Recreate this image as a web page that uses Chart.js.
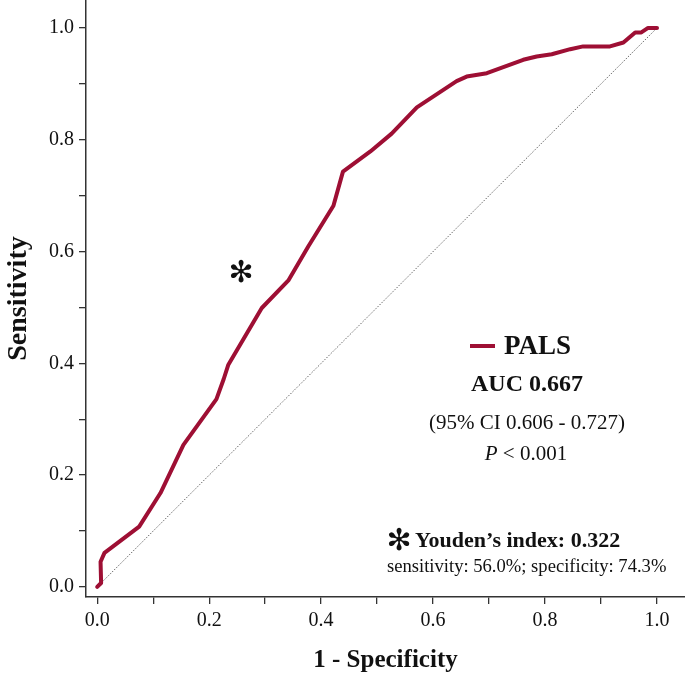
<!DOCTYPE html>
<html>
<head>
<meta charset="utf-8">
<script src="https://cdn.jsdelivr.net/npm/chart.js@4"></script>
<style>
  html, body { margin: 0; padding: 0; background: #fff; }
  #wrap { width: 685px; height: 680px; }
</style>
</head>
<body>
<div id="wrap"><canvas id="roc-chart" width="685" height="680"></canvas></div>
<script>
// ROC curve of PALS (1 - specificity vs sensitivity)
const fprValues = [0, 0.007, 0.006, 0.013, 0.075, 0.113, 0.154, 0.213, 0.226, 0.234, 0.294, 0.342, 0.377, 0.422, 0.439, 0.488, 0.526, 0.571, 0.642, 0.660, 0.696, 0.761, 0.785, 0.812, 0.845, 0.868, 0.916, 0.940, 0.961, 0.972, 0.984, 1.0];
const tprValues = [0, 0.007, 0.045, 0.061, 0.108, 0.168, 0.254, 0.336, 0.372, 0.397, 0.499, 0.549, 0.609, 0.682, 0.743, 0.779, 0.811, 0.858, 0.905, 0.913, 0.919, 0.943, 0.949, 0.953, 0.962, 0.967, 0.967, 0.974, 0.992, 0.992, 1.0, 1.0];
const refLine = [0, 1];
const tickValues = [0, 0.1, 0.2, 0.3, 0.4, 0.5, 0.6, 0.7, 0.8, 0.9, 1.0];
const youdenPoint = [1 - 0.743, 0.560];
const seriesName = 'PALS';
const statLines = ['AUC 0.667', '(95% CI 0.606 - 0.727)', '< 0.001'];
const youdenLines = ['Youden\u2019s index: 0.322', 'sensitivity: 56.0%; specificity: 74.3%'];

const curveColor = '#9e0f34';
const serif = '"Liberation Serif", "Times New Roman", serif';

const rocPoints = fprValues.map((x, i) => ({ x: x, y: tprValues[i] }));
const diagPoints = refLine.map(v => ({ x: v, y: v }));

function axisOptions(min, max, title, titleSize, fitFn) {
    return {
        type: 'linear',
        min: min,
        max: max,
        afterBuildTicks: scale => {
            scale.ticks = tickValues.map(v => ({ value: v }));
        },
        afterFit: scale => {
            fitFn(scale);
            // no extra room for half labels, the axes run to the canvas edge
            scale.paddingTop = 0;
            scale.paddingBottom = 0;
            scale.paddingLeft = 0;
            scale.paddingRight = 0;
        },
        ticks: {
            autoSkip: false,
            padding: 5,
            color: '#111',
            font: { family: serif, size: 20 },
            callback: (value, index) => index % 2 === 0 ? Number(value).toFixed(1) : ''
        },
        grid: {
            drawOnChartArea: false,
            drawTicks: true,
            tickLength: 7,
            color: '#333',
            lineWidth: 1.3
        },
        border: { display: true, color: '#333', width: 1.5 },
        title: {
            display: true,
            text: title,
            color: '#111',
            font: { family: serif, size: titleSize, weight: 'bold' },
            padding: { top: 2, bottom: 4 }
        }
    };
}

const textPlugin = {
    id: 'rocText',
    afterDraw(chart) {
        const ctx = chart.ctx;
        const xs = chart.scales.x;
        const ys = chart.scales.y;
        ctx.save();
        ctx.fillStyle = '#111';
        ctx.textBaseline = 'middle';

        // asterisk at the Youden point
        ctx.textAlign = 'center';
        ctx.font = 'bold 30px "DejaVu Sans"';
        ctx.fillText('\u273B', xs.getPixelForValue(youdenPoint[0]), ys.getPixelForValue(youdenPoint[1]));

        // legend entry
        ctx.strokeStyle = curveColor;
        ctx.lineWidth = 4;
        ctx.beginPath();
        ctx.moveTo(470, 346);
        ctx.lineTo(495, 346);
        ctx.stroke();
        ctx.textAlign = 'left';
        ctx.font = 'bold 27px ' + serif;
        ctx.fillText(seriesName, 504, 347);

        ctx.textAlign = 'center';
        ctx.font = 'bold 24px ' + serif;
        ctx.fillText(statLines[0], 527, 385);
        ctx.font = '21px ' + serif;
        ctx.fillText(statLines[1], 527, 423);

        // P value line with italic P
        ctx.textAlign = 'left';
        ctx.font = 'italic 21px ' + serif;
        const pw = ctx.measureText('P').width;
        ctx.font = '21px ' + serif;
        const rw = ctx.measureText(' ' + statLines[2]).width;
        const px = 526 - (pw + rw) / 2;
        ctx.font = 'italic 21px ' + serif;
        ctx.fillText('P', px, 454);
        ctx.font = '21px ' + serif;
        ctx.fillText(' ' + statLines[2], px + pw, 454);

        // Youden block
        ctx.textAlign = 'center';
        ctx.font = 'bold 30px "DejaVu Sans"';
        ctx.fillText('\u273B', 399, 542);
        ctx.textAlign = 'left';
        ctx.font = 'bold 22px ' + serif;
        ctx.fillText(youdenLines[0], 415, 541);
        ctx.font = '18.6px ' + serif;
        ctx.fillText(youdenLines[1], 387, 567);
        ctx.restore();
    }
};

const ctx = document.getElementById('roc-chart');
new Chart(ctx, {
    type: 'scatter',
    data: {
        datasets: [
            {
                label: seriesName,
                data: rocPoints,
                showLine: true,
                borderColor: curveColor,
                backgroundColor: curveColor,
                borderWidth: 4,
                borderJoinStyle: 'round',
                borderCapStyle: 'round',
                pointRadius: 0,
                tension: 0,
                order: 0
            },
            {
                label: 'reference',
                data: diagPoints,
                showLine: true,
                borderColor: '#666',
                borderWidth: 1,
                borderDash: [1.5, 1.5],
                pointRadius: 0,
                order: 1
            }
        ]
    },
    options: {
        responsive: false,
        animation: false,
        layout: { padding: 0 },
        plugins: {
            legend: { display: false },
            tooltip: { enabled: false }
        },
        scales: {
            x: axisOptions(-0.02, 1.05, '1 - Specificity', 25, scale => { scale.height = 83; }),
            y: axisOptions(-0.018, 1.05, 'Sensitivity', 28, scale => { scale.width = 86; })
        }
    },
    plugins: [textPlugin]
});
</script>
</body>
</html>
